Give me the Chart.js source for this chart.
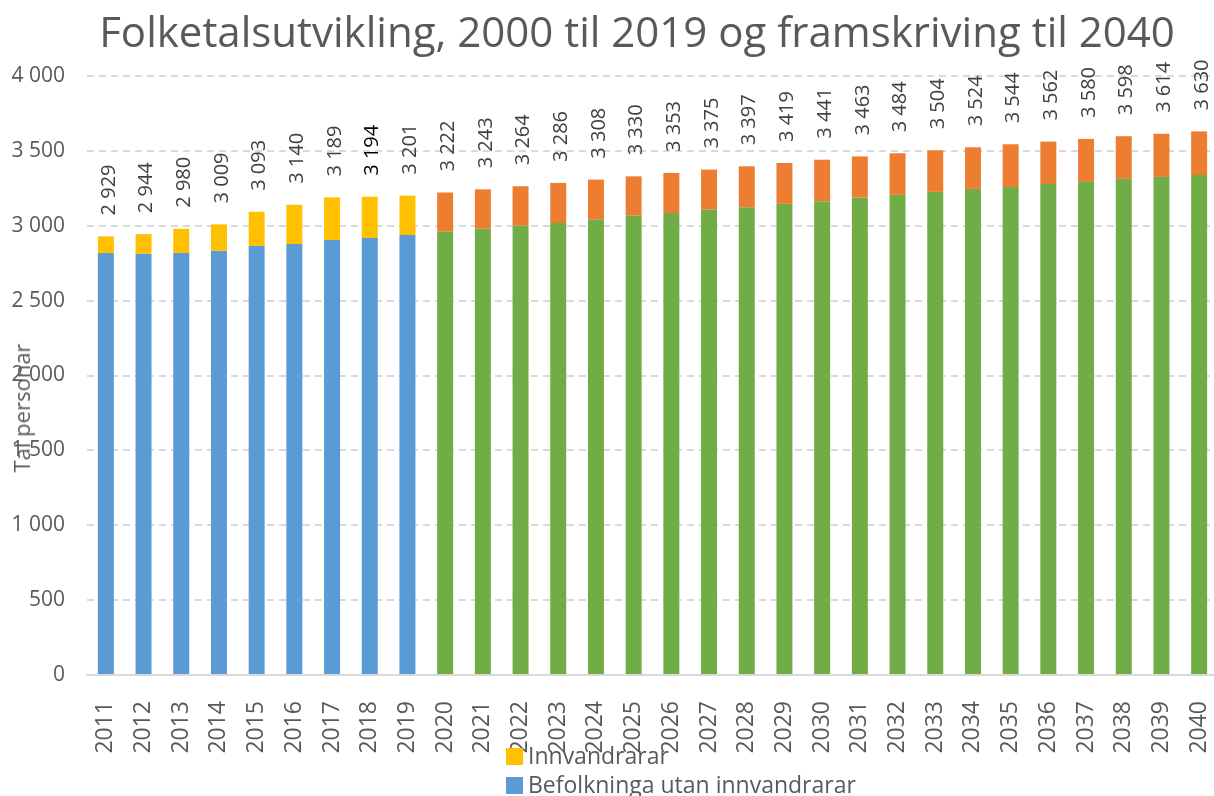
<!DOCTYPE html>
<html lang="nn">

<head>
    <meta charset="UTF-8">
    <title>Folketalsutvikling</title>
    <script src="https://cdn.jsdelivr.net/npm/chart.js"></script>
    <style>
        body {
            margin: 0;
            padding: 0;
            background-color: #fff;
            overflow: hidden;
            font-family: "Open Sans", sans-serif;
            color: #595959;
        }

        #wrap {
            position: absolute;
            left: 0;
            top: 0;
            width: 1218px;
            height: 796px;
        }

        #title {
            position: absolute;
            left: 0;
            width: 1274px;
            top: 2px;
            text-align: center;
            font-size: 42px;
            white-space: nowrap;
        }

        #ytitle {
            position: absolute;
            left: 21px;
            top: 408px;
            font-size: 22px;
            white-space: nowrap;
            transform: translate(-50%, -50%) rotate(-90deg);
        }

        #legend {
            position: absolute;
            left: 506px;
            top: 741px;
            font-size: 23px;
            line-height: 29px;
        }

        .swatch {
            display: inline-block;
            width: 17px;
            height: 17px;
            margin-right: 5px;
            vertical-align: -1px;
        }
    </style>
</head>

<body>
    <div id="wrap">
        <canvas id="chart"></canvas>
    </div>
    <div id="title">Folketalsutvikling, 2000 til 2019 og framskriving til 2040</div>
    <div id="ytitle">Tal personar</div>
    <div id="legend">
        <div><span class="swatch" style="background:#ffc000"></span>Innvandrarar</div>
        <div><span class="swatch" style="background:#5b9bd5"></span>Befolkninga utan innvandrarar</div>
    </div>

    <script>
        const years = ['2011', '2012', '2013', '2014', '2015', '2016', '2017', '2018', '2019', '2020',
            '2021', '2022', '2023', '2024', '2025', '2026', '2027', '2028', '2029', '2030',
            '2031', '2032', '2033', '2034', '2035', '2036', '2037', '2038', '2039', '2040'];

        // registrert 2011-2019
        const baseHist = [2818, 2812, 2818, 2832, 2865, 2878, 2905, 2918, 2938,
            null, null, null, null, null, null, null, null, null, null, null,
            null, null, null, null, null, null, null, null, null, null];
        const immHist = [111, 132, 162, 177, 228, 262, 284, 276, 263,
            null, null, null, null, null, null, null, null, null, null, null,
            null, null, null, null, null, null, null, null, null, null];

        // framskriving 2020-2040
        const baseProj = [null, null, null, null, null, null, null, null, null,
            2960, 2980, 3000, 3018, 3040, 3067, 3085, 3107, 3124, 3146, 3164,
            3189, 3206, 3226, 3246, 3259, 3279, 3293, 3313, 3326, 3339];
        const immProj = [null, null, null, null, null, null, null, null, null,
            262, 263, 264, 268, 268, 263, 268, 268, 273, 273, 277,
            274, 278, 278, 278, 285, 283, 287, 285, 288, 291];

        const totals = [2929, 2944, 2980, 3009, 3093, 3140, 3189, 3194, 3201, 3222,
            3243, 3264, 3286, 3308, 3330, 3353, 3375, 3397, 3419, 3441,
            3463, 3484, 3504, 3524, 3544, 3562, 3580, 3598, 3614, 3630];

        const fmt = v => String(v).replace(/\B(?=(\d{3})+(?!\d))/g, ' ');

        // totalsum over kvar søyle
        const totalLabels = {
            id: 'totalLabels',
            afterDatasetsDraw(chart) {
                const ctx = chart.ctx;
                ctx.save();
                ctx.font = '20px "Open Sans"';
                ctx.textAlign = 'left';
                ctx.textBaseline = 'middle';
                years.forEach((y, i) => {
                    const top = chart.getDatasetMeta(immHist[i] != null ? 1 : 3).data[i];
                    ctx.save();
                    ctx.translate(top.x + 3, top.y - 21);
                    ctx.rotate(-Math.PI / 2);
                    ctx.fillStyle = y === '2018' ? '#000' : '#404040';
                    ctx.fillText(fmt(totals[i]), 0, 0);
                    ctx.restore();
                });
                ctx.restore();
            }
        };

        const ctx = document.getElementById('chart').getContext('2d');
        const chart = new Chart(ctx, {
            type: 'bar',
            data: {
                labels: years,
                datasets: [{
                    label: 'Befolkninga utan innvandrarar',
                    data: baseHist,
                    backgroundColor: '#5b9bd5'
                }, {
                    label: 'Innvandrarar',
                    data: immHist,
                    backgroundColor: '#ffc000'
                }, {
                    label: 'Befolkninga utan innvandrarar (framskriving)',
                    data: baseProj,
                    backgroundColor: '#70ad47'
                }, {
                    label: 'Innvandrarar (framskriving)',
                    data: immProj,
                    backgroundColor: '#ed7d31'
                }]
            },
            options: {
                responsive: true,
                maintainAspectRatio: false,
                animation: false,
                barPercentage: 0.424,
                categoryPercentage: 1,
                layout: {
                    padding: { top: 76, left: 0, right: 0, bottom: 0 }
                },
                plugins: {
                    legend: { display: false },
                    title: { display: false },
                    tooltip: { enabled: false }
                },
                scales: {
                    x: {
                        stacked: true,
                        grid: { display: false, drawTicks: false },
                        border: { display: true, color: '#d9d9d9', width: 2 },
                        ticks: {
                            color: '#595959',
                            font: { family: 'Open Sans', size: 23 },
                            minRotation: 90,
                            maxRotation: 90,
                            padding: 26
                        },
                        afterFit(scale) {
                            scale.height = 121;
                            scale.paddingLeft = 0;
                            scale.paddingRight = 0;
                        }
                    },
                    y: {
                        stacked: true,
                        min: 0,
                        max: 4000,
                        border: { display: false, dash: [7, 5] },
                        grid: {
                            color: ctx => ctx.tick.value === 0 ? 'rgba(0,0,0,0)' : '#d9d9d9',
                            lineWidth: 2,
                            drawTicks: false
                        },
                        ticks: {
                            stepSize: 500,
                            color: '#595959',
                            font: { family: 'Open Sans', size: 21 },
                            padding: 22,
                            callback: v => fmt(v)
                        },
                        afterFit(scale) {
                            scale.width = 87;
                            scale.paddingTop = 0;
                            scale.paddingBottom = 0;
                        }
                    }
                }
            },
            plugins: [totalLabels]
        });
    </script>
</body>

</html>
